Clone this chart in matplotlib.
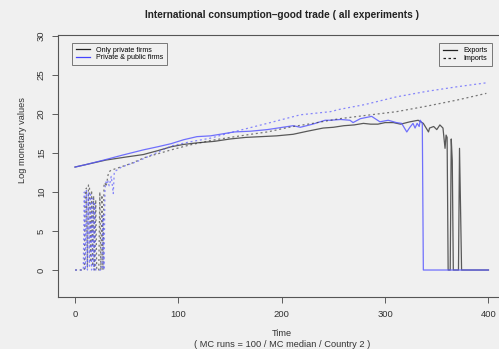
import matplotlib
matplotlib.use("Agg")
import matplotlib.pyplot as plt
from matplotlib.lines import Line2D

plt.rcParams['font.family'] = ['Liberation Sans', 'DejaVu Sans']

# Exports, only private firms (MC median, log values)
exp_priv_t = [0, 10, 20, 30, 40, 50, 66, 80, 93, 105, 118, 135, 150, 165, 180, 195,
              211, 225, 240, 250, 260, 270, 279, 286, 293, 300, 308, 315, 324, 332,
              337, 342, 343, 347, 350, 353, 356, 358, 359, 360, 361, 363, 364, 365,
              366, 371, 372, 373, 374, 400]
exp_priv_v = [13.2, 13.5, 13.8, 14.1, 14.3, 14.5, 14.8, 15.3, 15.8, 16.1, 16.3, 16.5,
              16.8, 17.0, 17.1, 17.2, 17.4, 17.8, 18.2, 18.3, 18.5, 18.6, 18.8, 18.7,
              18.7, 18.9, 18.9, 18.7, 19.0, 19.2, 18.8, 17.7, 18.2, 18.4, 18.0, 18.6,
              18.2, 15.6, 17.3, 17.0, 0, 0, 16.8, 14.0, 0, 0, 15.6, 8.0, 0, 0]

# Exports, private & public firms
exp_pub_t = [0, 10, 28, 45, 66, 80, 93, 105, 118, 131, 154, 170, 186, 196, 211, 218,
             230, 242, 247, 257, 266, 269, 276, 287, 295, 303, 311, 316, 321, 324,
             327, 329, 331, 333, 334, 335, 336, 337, 400]
exp_pub_v = [13.2, 13.5, 14.1, 14.7, 15.4, 15.8, 16.2, 16.7, 17.1, 17.2, 17.7, 17.8,
             18.0, 18.2, 18.5, 18.3, 18.7, 19.2, 19.2, 19.3, 19.2, 18.9, 19.4, 19.7,
             19.0, 19.2, 18.9, 18.8, 17.7, 18.3, 18.8, 18.2, 18.8, 18.4, 19.2, 19.0,
             18.8, 0, 0]

# Imports, only private firms
imp_priv_t = [0, 9, 10, 11, 12, 13, 14, 15, 16, 17, 18, 19, 20, 21, 23, 24, 25, 26,
              27, 28, 29, 30, 31, 32, 33, 35, 44, 55, 67, 80, 93, 110, 131, 150,
              170, 186, 200, 211, 230, 247, 256, 280, 311, 340, 370, 398]
imp_priv_v = [0, 0, 9.8, 10.5, 0.3, 10.9, 10.6, 1.0, 10.2, 0.5, 9.5, 0, 9.0, 0, 0,
              10.0, 0, 9.6, 0, 10.8, 11.2, 10.7, 11.4, 12.2, 12.6, 12.8, 13.2, 13.7,
              14.4, 14.9, 15.4, 16.0, 16.6, 17.0, 17.4, 17.7, 18.1, 18.4, 18.8, 19.2,
              19.4, 19.8, 20.3, 21.0, 21.8, 22.65]

# Imports, private & public firms
imp_pub_t = [0, 8, 9, 10, 11, 12, 13, 14, 15, 16, 17, 18, 19, 20, 26, 27, 28, 29,
             30, 31, 32, 33, 34, 35, 36, 37, 38, 45, 60, 75, 93, 110, 131, 153,
             186, 218, 247, 256, 280, 311, 340, 370, 398]
imp_pub_v = [0, 0, 10.0, 0, 10.2, 0, 10.0, 0.5, 9.7, 0, 9.2, 0, 8.5, 0, 0, 7.0, 0,
             10.5, 11.3, 11.0, 11.4, 10.8, 11.3, 12.0, 11.0, 9.8, 12.6, 13.2, 13.9,
             14.8, 15.9, 16.4, 16.9, 17.7, 18.8, 19.9, 20.3, 20.6, 21.2, 22.2, 22.9,
             23.5, 24.0]

bg = '#f0f0f0'
black = (0.15, 0.15, 0.15, 0.75)
blue = (0.35, 0.35, 1.0, 0.85)
black_d = (0.15, 0.15, 0.15, 0.6)
blue_d = (0.35, 0.35, 1.0, 0.7)

fig = plt.figure(figsize=(4.99, 3.49), dpi=100, facecolor=bg)
ax = fig.add_axes([0.1172, 0.1481, 0.8948, 0.7516], facecolor=bg)

ax.plot(exp_priv_t, exp_priv_v, color=black, lw=0.9)
ax.plot(exp_pub_t, exp_pub_v, color=blue, lw=0.9)
ax.plot(imp_priv_t, imp_priv_v, color=black_d, lw=0.9, dashes=(1.6, 2.2))
ax.plot(imp_pub_t, imp_pub_v, color=blue_d, lw=0.9, dashes=(1.6, 2.2))

ax.set_xlim(-16, 416)
ax.set_ylim(-3.5, 30.13)
ax.set_xticks([0, 100, 200, 300, 400])
ax.set_yticks([0, 5, 10, 15, 20, 25, 30])
ax.tick_params(direction='out', length=4, width=0.6, color='#444444',
               labelsize=6.8, labelcolor='#333333', pad=5)
for lab in ax.get_yticklabels():
    lab.set_rotation(90)
    lab.set_va('center')
for sp in ax.spines.values():
    sp.set_color('#555555')
    sp.set_linewidth(0.8)

fig.text(0.5645, 0.957, 'International consumption\u2013good trade ( all experiments )',
         ha='center', va='center', fontsize=7.3, fontweight='bold', color='#222222')
fig.text(0.046, 0.6, 'Log monetary values', rotation=90, ha='center', va='center',
         fontsize=6.7, color='#333333')
fig.text(0.5645, 0.043, 'Time', ha='center', va='center', fontsize=6.7, color='#333333')
fig.text(0.5645, 0.014, '( MC runs = 100 / MC median / Country 2 )', ha='center',
         va='center', fontsize=6.7, color='#333333')

leg_kw = dict(fontsize=5.1, frameon=True, fancybox=False, edgecolor='#777777',
              facecolor=bg, framealpha=1, handlelength=2.0, borderpad=0.55,
              labelspacing=0.1, handletextpad=0.9, borderaxespad=0)
h1 = [Line2D([], [], color='#222222', lw=0.9), Line2D([], [], color='#4444ff', lw=0.9)]
leg1 = ax.legend(h1, ['Only private firms', 'Private & public firms'],
                 loc='upper left', bbox_to_anchor=(0.0296, 0.9706), **leg_kw)
leg1.get_frame().set_linewidth(0.7)
ax.add_artist(leg1)
h2 = [Line2D([], [], color='#222222', lw=0.9),
      Line2D([], [], color='#222222', lw=0.9, dashes=(2, 2))]
leg2 = ax.legend(h2, ['Exports', 'Imports'], loc='upper right',
                 bbox_to_anchor=(0.970, 0.968), **leg_kw)
leg2.get_frame().set_linewidth(0.7)

fig.savefig('out.png', dpi=100, facecolor=bg)
